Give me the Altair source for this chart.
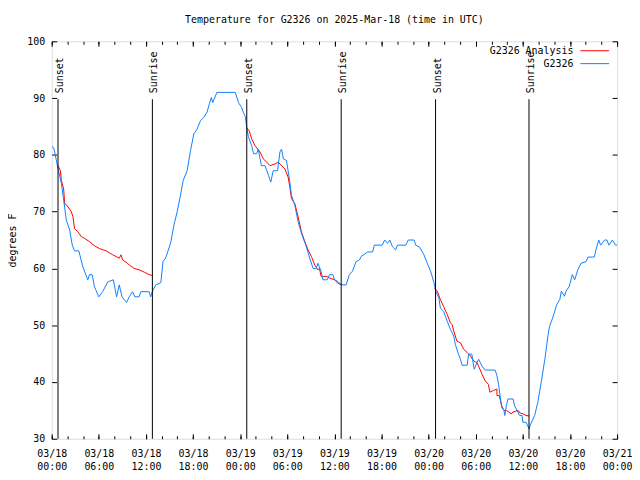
import altair as alt
import pandas as pd

# ---------------- data (hours since 2025-03-18 00:00 UTC, degrees F) ----------------
blue_hours = [0.1, 0.3, 0.8, 1.23, 1.64, 1.86, 2.28, 2.62, 2.91, 3.45, 3.96, 4.59, 4.81, 5.15,
              5.44, 5.99, 6.49, 7.12, 7.85, 8.26, 8.6, 8.95, 9.53, 9.87, 10.29, 10.59, 11.13,
              11.35, 12.4, 12.6, 12.8, 13.25, 13.9, 14.17, 14.5, 15.15, 15.56, 15.98, 16.4,
              16.74, 17.25, 17.67, 18.1, 18.5, 18.94, 19.36, 19.78, 20.08, 20.33, 20.5, 21.04,
              23.37, 23.79, 24.2, 24.4, 24.64, 24.84, 25.05, 25.47, 25.7, 26.1, 26.3, 26.7,
              27.17, 27.6, 27.9, 28.2, 28.76, 29.06, 29.27, 29.5, 29.9, 30.1, 30.3, 30.53,
              30.96, 31.38, 31.8, 32.43, 32.86, 33.28, 33.7, 33.9, 34.3, 34.54, 35.09, 35.39,
              35.8, 36.02, 36.44, 36.86, 37.5, 37.9, 38.3, 38.76, 39.2, 39.4, 40.24, 40.87,
              41.08, 42.1, 42.4, 42.77, 43.06, 43.4, 43.8, 44.03, 45.1, 45.4, 46.15, 46.35,
              46.8, 47.2, 47.4, 47.83, 48.25, 48.68, 48.9, 49.3, 49.5, 49.9, 50.36, 50.78,
              51.2, 51.4, 51.8, 52.05, 52.26, 52.9, 53.1, 53.5, 53.8, 54.16, 54.37, 54.79,
              55.2, 56.47, 56.7, 56.9, 57.1, 57.3, 57.6, 57.7, 57.9, 58.1, 58.75, 58.95,
              59.16, 59.58, 59.9, 60.0, 60.4, 60.8, 61.0, 61.5, 61.9, 62.4, 62.8, 63.2, 63.4,
              63.8, 64.3, 64.7, 64.9, 65.3, 65.5, 65.9, 66.3, 66.6, 67.0, 67.4, 68.06, 68.3,
              69.1, 69.3, 69.66, 69.9, 70.4, 70.7, 70.96, 71.4, 71.8, 72.0]
blue_temps = [81.5, 81.0, 77.6, 75.0, 70.8, 68.5, 66.8, 64.1, 63.1, 63.1, 60.3, 58.0, 58.9, 58.9,
              56.8, 55.0, 55.9, 57.6, 58.0, 55.0, 57.1, 55.0, 54.0, 55.0, 55.9, 55.0, 55.0,
              55.9, 55.9, 55.0, 55.9, 57.1, 57.5, 61.2, 61.8, 64.5, 67.6, 70.0, 72.9,
              75.5, 77.2, 80.75, 83.7, 84.5, 86.0, 86.6, 87.5, 89.0, 90.1, 89.2, 91.0,
              91.0, 89.2, 88.3, 87.5, 86.8, 84.8, 83.2, 81.6, 80.2, 80.2, 81.0, 78.1,
              78.1, 76.4, 75.2, 77.2, 77.2, 80.5, 81.0, 79.3, 79.0, 77.2, 75.5, 72.9,
              71.1, 68.2, 66.2, 63.8, 61.8, 60.0, 60.0, 60.9, 59.5, 58.0, 58.0, 58.9,
              58.9, 58.0, 57.7, 57.1, 57.1, 58.9, 59.5, 61.2, 61.5, 62.1, 62.9, 62.9,
              64.1, 64.1, 65.0, 64.4, 65.0, 63.8, 63.25, 64.1, 64.1, 65.0, 65.0, 64.1,
              63.8, 62.9, 62.4, 60.9, 59.5, 57.5, 56.0, 54.8, 53.0, 52.45, 50.7, 49.25,
              48.1, 46.6, 44.9, 44.0, 42.95, 42.95, 44.9, 44.9, 42.25, 43.4, 44.0, 42.8,
              42.1, 42.1, 41.1, 39.6, 37.6, 35.5, 35.0, 34.1, 35.8, 37.0, 37.0, 35.8,
              35.25, 34.1, 34.1, 32.9, 32.9, 31.75, 32.6, 34.1, 36.4, 40.5, 44.0, 48.2, 49.8,
              51.3, 53.6, 54.5, 56.0, 55.1, 56.0, 56.8, 58.9, 58.0, 59.75, 60.9, 61.2, 62.0,
              62.0, 63.25, 65.0, 64.1, 65.0, 65.0, 64.1, 65.0, 64.1, 64.1]

red1_hours = [0.67, 0.8, 1.1, 1.23, 1.52, 1.65, 1.94, 2.49, 2.7, 2.91, 3.33, 3.76, 4.18, 4.81,
              5.44, 6.07, 6.92, 7.76, 8.6, 8.82, 9.03, 9.66, 9.87, 10.5, 11.13, 11.77, 12.4, 12.82]
red1_temps = [78.1, 78.1, 77.25, 75.5, 74.0, 71.4, 71.1, 70.0, 69.1, 67.0, 66.45, 65.6, 65.3, 64.7,
              64.0, 63.5, 63.1, 62.4, 61.8, 62.4, 61.5, 60.9, 60.6, 60.0, 59.75, 59.35, 58.9, 58.75]
red2_hours = [24.84, 25.14, 25.47, 25.9, 26.53, 26.95, 27.38, 27.8, 28.43, 28.85, 29.27, 29.7,
              30.1, 30.33, 30.53, 30.96, 31.38, 31.8, 32.23, 32.65, 33.07, 33.5, 33.9, 34.1,
              34.3, 34.96, 35.4, 36.02, 36.44, 36.86]
red2_temps = [84.8, 84.25, 82.8, 81.6, 80.5, 79.3, 78.7, 78.1, 78.4, 78.7, 78.1, 77.5,
              76.1, 74.3, 72.3, 71.4, 69.1, 66.45, 64.7, 63.25, 62.1, 60.6, 59.75, 60.0,
              58.6, 58.6, 58.3, 58.0, 57.4, 57.1]
red3_hours = [48.75, 49.1, 49.5, 49.9, 50.36, 50.78, 51.0, 51.2, 51.6, 52.05, 52.47, 52.9, 53.3,
              53.74, 54.16, 54.79, 55.2, 55.6, 55.8, 56.25, 56.7, 56.7, 57.0, 57.3, 57.6, 57.9,
              58.5, 58.75, 59.4, 59.6, 60.0, 60.4, 60.8]
red3_temps = [56.55, 56.0, 54.5, 53.3, 51.9, 50.4, 50.1, 48.95, 47.2, 46.9, 45.75, 45.2, 44.6,
              43.7, 43.4, 41.4, 40.2, 39.6, 38.2, 38.5, 38.75, 37.6, 37.6, 35.8, 35.0, 35.0,
              34.4, 34.7, 35.0, 34.55, 34.4, 34.1, 34.0]

event_hours = [0.8, 12.82, 24.84, 36.86, 48.88, 60.78]
event_labels = ["Sunset", "Sunrise", "Sunset", "Sunrise", "Sunset", "Sunrise"]

series_names = ["G2326 Analysis", "G2326"]
series_colors = ["#ff0000", "#1080ff"]

x_major = list(range(0, 73, 6))
x_minor = list(range(0, 73, 2))
y_ticks = list(range(30, 101, 10))

# ---------------- tables ----------------
rows = []
for seg, (hs, ts) in enumerate([(red1_hours, red1_temps), (red2_hours, red2_temps),
                                (red3_hours, red3_temps)]):
    for h, t in zip(hs, ts):
        rows.append({"hour": h, "temp": t, "series": series_names[0], "seg": seg})
df_red = pd.DataFrame(rows)
df_blue = pd.DataFrame({"hour": blue_hours, "temp": blue_temps,
                        "series": series_names[1], "seg": 0})
df_events = pd.DataFrame({"hour": event_hours, "label": event_labels})

FONT = "DejaVu Sans Mono"

x_scale = alt.Scale(domain=[0, 72], nice=False, zero=False)
y_scale = alt.Scale(domain=[30, 100], nice=False, zero=False)

x_major_axis = alt.Axis(
    values=x_major, orient="bottom", domain=False, ticks=False,
    grid=True, gridColor="black", gridOpacity=1, gridWidth=1, gridDash=[5, 390, 5],
    labelExpr="['03/' + (18 + floor(datum.value / 24)), "
              "(datum.value % 24 < 10 ? '0' : '') + (datum.value % 24) + ':00']",
    labelFont=FONT, labelFontSize=10, labelColor="black", labelPadding=10,
    labelLineHeight=13, labelAngle=0, labelFlush=False, labelOverlap=False,
    title=None,
)
x_minor_axis = alt.Axis(
    values=x_minor, orient="top", domain=False, ticks=False, labels=False,
    grid=True, gridColor="black", gridOpacity=1, gridWidth=1, gridDash=[3, 394, 3],
    title=None,
)
y_axis = alt.Axis(
    values=y_ticks, orient="left", domain=False, ticks=False,
    grid=True, gridColor="black", gridOpacity=1, gridWidth=1, gridDash=[5, 559, 5],
    labelFont=FONT, labelFontSize=10, labelColor="black", labelPadding=7,
    title="degrees F", titleFont=FONT, titleFontSize=10, titleFontWeight="normal",
    titleColor="black", titlePadding=9,
)

color_scale = alt.Scale(domain=series_names, range=series_colors)
legend = alt.Legend(
    title=None, orient="none", legendX=541, legendY=4, padding=0,
    symbolType="M-2.9,0L2.9,0", symbolSize=100, symbolStrokeWidth=1,
    labelAlign="right", labelOffset={"expr": "-27"}, labelFont=FONT, labelFontSize=10,
    labelColor="black", rowPadding=2, labelLimit=300,
)

red = alt.Chart(df_red).mark_line(strokeWidth=1).encode(
    x=alt.X("hour:Q", scale=x_scale, axis=x_major_axis),
    y=alt.Y("temp:Q", scale=y_scale, axis=y_axis),
    color=alt.Color("series:N", scale=color_scale, legend=legend),
    detail="seg:N",
)
blue = alt.Chart(df_blue).mark_line(strokeWidth=1).encode(
    x=alt.X("hour:Q", scale=x_scale, axis=x_minor_axis),
    y=alt.Y("temp:Q", scale=y_scale, axis=y_axis),
    color=alt.Color("series:N", scale=color_scale, legend=legend),
)
rules = alt.Chart(df_events).mark_rule(color="black", strokeWidth=1).encode(
    x=alt.X("hour:Q", scale=x_scale, axis=None),
    y=alt.Y(datum=89.8, scale=y_scale, axis=y_axis),
    y2=alt.Y2(datum=30),
)
texts = alt.Chart(df_events).mark_text(
    angle=270, align="left", baseline="middle", dx=6, dy=2,
    font=FONT, fontSize=10, color="black",
).encode(
    x=alt.X("hour:Q", scale=x_scale, axis=None),
    y=alt.Y(datum=89.8, scale=y_scale, axis=y_axis),
    text="label:N",
)

chart = alt.layer(red, blue, rules, texts).resolve_axis(x="independent").properties(
    width=569, height=400,
    title=alt.TitleParams(
        "Temperature for G2326 on 2025-Mar-18 (time in UTC)",
        font=FONT, fontSize=10, fontWeight="normal", color="black",
        anchor="middle", offset=11,
    ),
    autosize=alt.AutoSizeParams(type="none"),
    padding={"left": 44, "top": 32, "right": 15, "bottom": 40},
).configure_view(stroke="black", strokeWidth=1).configure(background="white")

chart.save("out.html", embed_options={"renderer": "svg", "actions": False})
